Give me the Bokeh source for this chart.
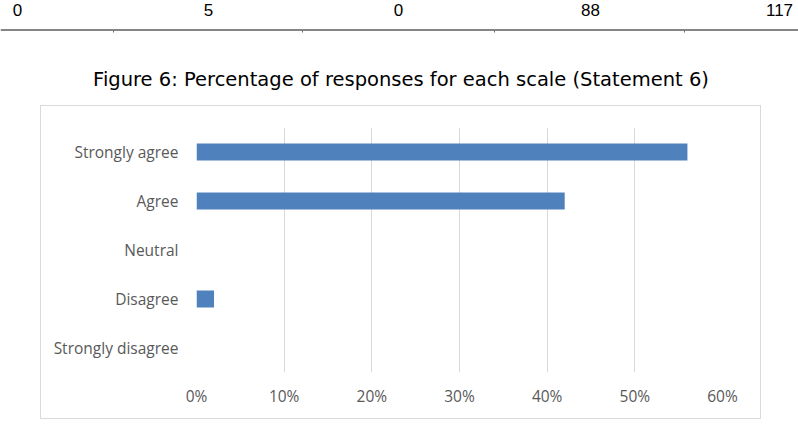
from bokeh.plotting import figure
from bokeh.layouts import column, row
from bokeh.models import Range1d, FixedTicker, PrintfTickFormatter, Spacer
from bokeh.core.properties import value
from bokeh.embed import file_html
from bokeh.resources import INLINE

# Likert scale, listed bottom-to-top as drawn on the y axis
categories = ["Strongly disagree", "Disagree", "Neutral", "Agree", "Strongly agree"]
percentages = [0, 2, 0, 42, 56]
x_ticks = [0, 10, 20, 30, 40, 50, 60]

# last row of the response-count table that sits above the figure
table_counts = ["0", "5", "0", "88", "117"]
caption = "Figure 6: Percentage of responses for each scale (Statement 6)"

W = 798
HEAD_H = 105                 # table row + caption strip
BOX_X, BOX_Y = 41, 106       # top-left of the chart canvas (border drawn just outside)
BOX_W, BOX_H = 719, 312

AXIS_FONT = "Open Sans"
AXIS_COLOR = "#595959"
GRID_COLOR = "#d9d9d9"
BAR_COLOR = "#4f81bd"

# ---- header: table row, rule and caption (pixel coordinates, y down) ----
head = figure(width=W, height=HEAD_H, x_range=Range1d(0, W), y_range=Range1d(HEAD_H, 0),
              output_backend="svg", toolbar_location=None, min_border=0)
head.axis.visible = False
head.grid.visible = False
head.outline_line_color = None
head.background_fill_color = "white"
head.border_fill_color = "white"

col_centers = [17, 208, 398, 590, 779]
head.text(x=col_centers, y=[9] * len(table_counts), text=table_counts,
          text_align="center", text_baseline="alphabetic",
          text_font=value("Liberation Sans"), text_font_size="17px", text_color="black")
head.segment(x0=[0], y0=[29.5], x1=[W], y1=[29.5], line_color="#858585", line_width=2)
dividers = [113, 302, 494, 684]
head.segment(x0=dividers, y0=[30] * 4, x1=dividers, y1=[32] * 4,
             line_color="#6e6e6e", line_width=1)
head.text(x=[400.5], y=[79], text=[caption], text_align="center", text_baseline="alphabetic",
          text_font=value("DejaVu Sans"), text_font_size="19.5px", text_color="black")

# ---- chart ----
y_pos = [i + 0.5 for i in range(len(categories))]   # one band per category

chart = figure(width=BOX_W, height=BOX_H,
               x_range=Range1d(0, 60), y_range=Range1d(0, len(categories)),
               output_backend="svg", toolbar_location=None,
               min_border_left=196 - BOX_X, min_border_right=BOX_X + BOX_W - 722,
               min_border_top=127 - BOX_Y, min_border_bottom=BOX_Y + BOX_H - 372,
               styles={"outline": "1px solid #d9d9d9", "outline-offset": "0px"})
chart.background_fill_color = "white"
chart.border_fill_color = "white"
chart.outline_line_color = None

chart.hbar(y=y_pos, right=percentages, left=0, height=0.35,
           fill_color=BAR_COLOR, line_color=None)

chart.xaxis.ticker = FixedTicker(ticks=x_ticks)
chart.xaxis.formatter = PrintfTickFormatter(format="%d%%")
chart.yaxis.ticker = FixedTicker(ticks=y_pos)
chart.yaxis.major_label_overrides = {y: name for y, name in zip(y_pos, categories)}
for ax in (chart.xaxis[0], chart.yaxis[0]):
    ax.axis_line_color = None
    ax.major_tick_line_color = None
    ax.minor_tick_line_color = None
    ax.major_tick_out = 0
    ax.major_tick_in = 0
    ax.major_label_text_font = AXIS_FONT
    ax.major_label_text_font_size = "15.5px"
    ax.major_label_text_color = AXIS_COLOR
chart.xaxis.major_label_standoff = 12
chart.yaxis.major_label_standoff = 18

chart.xgrid.grid_line_color = GRID_COLOR
chart.xgrid.grid_line_width = 1
chart.ygrid.grid_line_color = None

layout = column(head,
                Spacer(width=W, height=BOX_Y - HEAD_H),
                row(Spacer(width=BOX_X, height=BOX_H), chart, spacing=0),
                spacing=0)

open("out.html", "w").write(file_html(layout, INLINE))
